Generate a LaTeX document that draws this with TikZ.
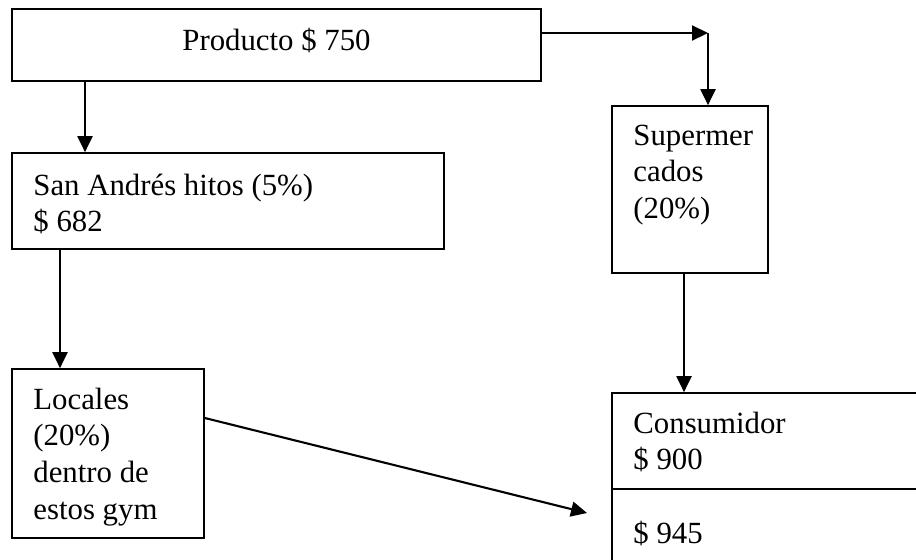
\documentclass[tikz,border=0pt]{standalone}
\usepackage{fontspec}
\setmainfont{Liberation Serif}
\usetikzlibrary{arrows.meta,fit}
\begin{document}
\begin{tikzpicture}[x=0.5pt,y=-0.5pt,
  box/.style={draw, line width=0.85pt, inner sep=0pt, fit={#1}},
  txt/.style={anchor=base west, inner sep=0pt, font=\fontsize{15.4pt}{18.35pt}\selectfont},
  arr/.style={line width=1.05pt, -{Triangle[length=8pt,width=7.5pt]}}]
\useasboundingbox (0,0) rectangle (916,559);
\fill[white] (0,0) rectangle (916,559);
\clip (0,0) rectangle (916,559);
% boxes
\node[box={(12,9) (541,81)}] (prod) {};
\node[box={(12,153) (444,249)}] (sana) {};
\node[box={(612,106) (768,273)}] (super) {};
\node[box={(12,369) (204,538)}] (loc) {};
\node[box={(612,393) (940,600)}] (cons) {};
\draw[line width=0.85pt] (cons.west |- 0,489) -- (cons.east |- 0,489);
% texts
\node[txt, anchor=base] (tprod) at (276.5,50) {Producto \$ 750};
\node[txt] (tsana) at (33,195) {\parbox[t]{300pt}{\raggedright San Andrés hitos (5\%)\\\$ 682}};
\node[txt] (tsuper) at (633,145) {\parbox[t]{100pt}{\raggedright Supermer\\cados\\(20\%)}};
\node[txt] (tloc) at (33,409) {\parbox[t]{100pt}{\raggedright Locales\\(20\%)\\dentro de\\estos gym}};
\node[txt] (tcons) at (633,433) {\parbox[t]{150pt}{\raggedright Consumidor\\\$ 900}};
\node[txt] (tcons2) at (633,543) {\$ 945};
% connectors
\coordinate (bend) at (708,33);
\coordinate (tip) at (587,513);
\draw[arr] (prod.east |- bend) -- (bend);
\draw[arr] (bend) -- (super.north -| bend);
\draw[arr] (prod.south -| 85,0) -- (sana.north -| 85,0);
\draw[arr] (sana.south -| 60,0) -- (loc.north -| 60,0);
\draw[arr] (super.south -| 684,0) -- (cons.north -| 684,0);
\draw[arr] (loc.east |- 0,418) -- (tip);
\end{tikzpicture}
\end{document}
